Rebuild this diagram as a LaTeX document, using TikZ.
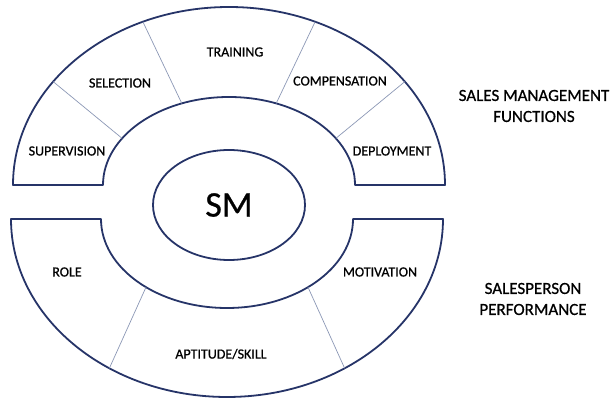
\documentclass[tikz,border=0pt]{standalone}
\usepackage{fontspec}
\setmainfont{Carlito}[FakeBold=0.7]
\usepackage{xcolor}
\definecolor{ringblue}{RGB}{38, 52, 104}
\definecolor{splitgray}{RGB}{140, 152, 182}
\usepackage{tikz}
\usetikzlibrary{calc, shapes.geometric}

\begin{document}
\begin{tikzpicture}[x=1pt, y=1pt]
  \tikzstyle{ring} = [draw=ringblue, line width=1.8pt, fill=white, line join=round]
  \tikzstyle{split} = [draw=splitgray, line width=0.7pt]
  \tikzstyle{seg} = [font=\fontsize{14}{16}\selectfont, text=black]
  \tikzstyle{side} = [font=\fontsize{17}{21}\selectfont, text=black, align=center]

  \useasboundingbox (0,0) rectangle (613,398);

  % centres of the two half rings
  \coordinate (ctop) at (229,213);
  \coordinate (cbot) at (227,179);

  % upper half ring
  \draw [ring] (13,213) arc[start angle=180, end angle=0, x radius=216, y radius=178]
    -- (355,213) arc[start angle=0, end angle=180, x radius=126, y radius=88] -- cycle;

  % lower half ring
  \draw [ring] (11,179) arc[start angle=180, end angle=360, x radius=216, y radius=178]
    -- (353,179) arc[start angle=360, end angle=180, x radius=126, y radius=89] -- cycle;

  % dividers of the upper ring
  \foreach \i/\a/\b in {1/144.5/148, 2/113.5/112, 3/66.5/68, 4/35.5/32} {
    \coordinate (to\i) at ($(ctop)+(\a:216 and 178)$);
    \coordinate (ti\i) at ($(ctop)+(\b:126 and 88)$);
    \draw [split] (ti\i) -- (to\i);
  }

  % dividers of the lower ring
  \foreach \i/\a/\b in {1/237/230, 2/303/310} {
    \coordinate (bo\i) at ($(cbot)+(\a:216 and 178)$);
    \coordinate (bi\i) at ($(cbot)+(\b:126 and 89)$);
    \draw [split] (bi\i) -- (bo\i);
  }

  % centre
  \node [ellipse, draw=ringblue, line width=1.8pt, minimum width=152pt, minimum height=110pt,
    font=\fontsize{36}{40}\selectfont] (sm) at (229,193) {SM};

  \node [seg] (supervision) at (67,247) {SUPERVISION};
  \node [seg] (selection) at (120,315) {SELECTION};
  \node [seg] (training) at (235,346) {TRAINING};
  \node [seg] (compensation) at (340,317) {COMPENSATION};
  \node [seg] (deployment) at (392,247) {DEPLOYMENT};

  \node [seg] (role) at (67,126) {ROLE};
  \node [seg] (motivation) at (380,126) {MOTIVATION};
  \node [seg] (aptitude) at (221,44) {APTITUDE/SKILL};

  \node [side] (functions) at (534,292) {SALES MANAGEMENT\\FUNCTIONS};
  \node [side] (performance) at (533,99) {SALESPERSON\\PERFORMANCE};
\end{tikzpicture}
\end{document}
